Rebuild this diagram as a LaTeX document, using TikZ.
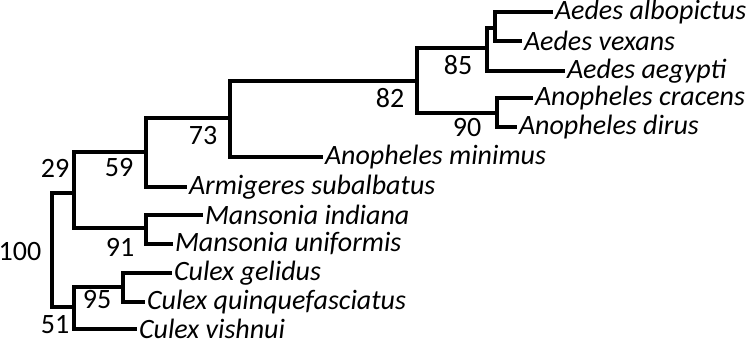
\documentclass[tikz,border=0pt]{standalone}
\usepackage{fontspec}
\setmainfont{Carlito}
\usetikzlibrary{positioning}

\begin{document}
\begin{tikzpicture}[x=0.5pt,y=-0.5pt,
branch/.style={line width=1.6pt},
taxon/.style={anchor=west,inner sep=0.8pt,font=\fontsize{14}{16}\selectfont\itshape},
boot/.style={inner sep=0pt,font=\fontsize{14}{16}\selectfont}
]
\useasboundingbox (0,0) rectangle (750,342);
% internal nodes
\coordinate (root) at (52,250);
\coordinate (n29) at (74,193);
\coordinate (n59) at (146,152);
\coordinate (n91) at (146,228);
\coordinate (n73) at (230,118);
\coordinate (n82) at (417,81);
\coordinate (n85) at (487,48);
\coordinate (nalb) at (495,28);
\coordinate (n90) at (497,113);
\coordinate (n51) at (74,307);
\coordinate (n95) at (123,287);
% taxa
\node[taxon] (albo) at (553,12) {Aedes albopictus};
\node[taxon] (vexa) at (522,41) {Aedes vexans};
\node[taxon] (aegy) at (565,71) {Aedes aegypti};
\node[taxon] (crac) at (533,98) {Anopheles cracens};
\node[taxon] (diru) at (517,127) {Anopheles dirus};
\node[taxon] (mini) at (323,157) {Anopheles minimus};
\node[taxon] (armi) at (187,187) {Armigeres subalbatus};
\node[taxon] (mind) at (203,215) {Mansonia indiana};
\node[taxon] (muni) at (173,244) {Mansonia uniformis};
\node[taxon] (geli) at (172,273) {Culex gelidus};
\node[taxon] (quin) at (145,302) {Culex quinquefasciatus};
\node[taxon] (vish) at (137,329) {Culex vishnui};
% support values
\node[boot] (b100) at (20,252) {100};
\node[boot] (b29) at (55,168) {29};
\node[boot] (b59) at (119,168) {59};
\node[boot] (b73) at (203,136) {73};
\node[boot] (b82) at (390,98) {82};
\node[boot] (b85) at (458,65) {85};
\node[boot] (b90) at (467,128) {90};
\node[boot] (b91) at (120,247) {91};
\node[boot] (b95) at (97,300) {95};
\node[boot] (b51) at (55,325) {51};
% branches
\draw[branch] (root) |- (n29);
\draw[branch] (root) |- (n51);
\draw[branch] (n29) |- (n59);
\draw[branch] (n29) |- (n91);
\draw[branch] (n59) |- (n73);
\draw[branch] (n59) |- (armi.west);
\draw[branch] (n73) |- (n82);
\draw[branch] (n73) |- (mini.west);
\draw[branch] (n82) |- (n85);
\draw[branch] (n82) |- (n90);
\draw[branch] (n85) |- (nalb);
\draw[branch] (n85) |- (aegy.west);
\draw[branch] (nalb) |- (albo.west);
\draw[branch] (nalb) |- (vexa.west);
\draw[branch] (n90) |- (crac.west);
\draw[branch] (n90) |- (diru.west);
\draw[branch] (n91) |- (mind.west);
\draw[branch] (n91) |- (muni.west);
\draw[branch] (n51) |- (n95);
\draw[branch] (n51) |- (vish.west);
\draw[branch] (n95) |- (geli.west);
\draw[branch] (n95) |- (quin.west);
\end{tikzpicture}
\end{document}
